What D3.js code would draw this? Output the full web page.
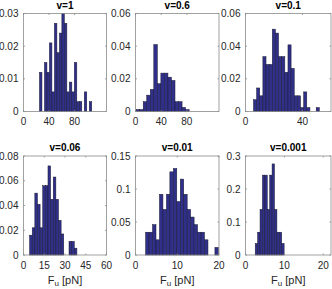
<!DOCTYPE html>
<html>
<head>
<meta charset="utf-8">
<script src="https://cdn.jsdelivr.net/npm/d3@7"></script>
<style>
  body { margin: 0; background: #fff; }
  text { font-family: "Liberation Sans", Arial, Helvetica, sans-serif; }
</style>
</head>
<body>
<div id="chart"></div>
<script>
// panel titles (pulling speed)
var titles = ["v=1", "v=0.6", "v=0.1", "v=0.06", "v=0.01", "v=0.001"];

// histogram heights (pdf) per bin
var pdf1 = [0.012, 0, 0.015, 0.012, 0.021, 0.006, 0.027, 0.018, 0.024, 0.030, 0.027,
            0.006, 0.009, 0.006, 0.015, 0.003, 0.003, 0, 0.006, 0, 0.003];
var pdf2 = [0.0012, 0.0012, 0.006, 0.010, 0.0135, 0.041, 0.017, 0.0235, 0.0235, 0.021,
            0.019, 0.006, 0.006, 0.0025, 0.0012];
var pdf3 = [0.0072, 0.0144, 0.0096, 0.0336, 0.0288, 0.0288, 0.0504, 0.048, 0.0336, 0.0336,
            0.024, 0.0408, 0.0264, 0.0096, 0.0096, 0.0024, 0.012, 0.0024, 0, 0, 0.0024];
var pdf4 = [0.016, 0.022, 0.050, 0.041, 0.022, 0.056, 0.056, 0.072, 0.045, 0.063,
            0.045, 0.028, 0.017, 0, 0, 0.011, 0.011, 0.0055];
var pdf5 = [0.0345, 0.0345, 0.046, 0.023, 0.092, 0.069, 0.092, 0.126, 0.131, 0.081,
            0.115, 0.092, 0.069, 0.0575, 0.046, 0.0345, 0.0345, 0.023, 0, 0, 0.0115];
var pdf6 = [0.035, 0.069, 0.138, 0.242, 0.242, 0.138, 0.242, 0.276, 0.138, 0.069, 0.069, 0.035];
var pdfs = [pdf1, pdf2, pdf3, pdf4, pdf5, pdf6];

// first bin edge and bin width, in pN
var binStart = [25, 1, 5.6, 4.4, 2.42, 2.5];
var binWidth = [3.9, 5.5, 2.2, 1.9, 0.83, 0.62];

// axis limits and ticks
var xMax = [130, 130, 60, 60, 20, 22];
var xTicks = [[0, 40, 80], [0, 40, 80], [0, 40], [0, 15, 30, 45, 60], [0, 10, 20], [0, 10, 20]];
var yMax = [0.03, 0.06, 0.06, 0.08, 0.15, 0.3];
var yTicks = [[0, 0.01, 0.02, 0.03], [0, 0.02, 0.04, 0.06], [0, 0.02, 0.04, 0.06],
              [0, 0.02, 0.04, 0.06, 0.08], [0, 0.05, 0.1, 0.15], [0, 0.1, 0.2, 0.3]];

var width = 332, height = 289;
var svg = d3.select("#chart").append("svg")
    .attr("width", width)
    .attr("height", height);

// axes boxes [left, right] per column, [top, bottom] per row
var cols = [[23.5, 106.5], [135.5, 219], [245.5, 331]];
var rows = [[13.5, 111.5], [156, 255]];
var axisColor = "#262626";
var boxColor = "#8a8a8a";

pdfs.forEach(function(pdf, p) {
    var c = cols[p % 3], r = rows[Math.floor(p / 3)];
    var w = c[1] - c[0], h = r[1] - r[0];
    var g = svg.append("g").attr("transform", "translate(" + c[0] + "," + r[0] + ")");

    var x = d3.scaleLinear().domain([0, xMax[p]]).range([0, w]);
    var y = d3.scaleLinear().domain([0, yMax[p]]).range([h, 0]);

    // bars
    g.selectAll(".bar")
        .data(pdf.map(function(v, k) { return {v: v, k: k}; }).filter(function(d) { return d.v > 0; }))
        .enter().append("rect")
        .attr("class", "bar")
        .attr("x", function(d) { return x(binStart[p] + d.k * binWidth[p]); })
        .attr("width", x(binWidth[p]) - x(0))
        .attr("y", function(d) { return y(d.v); })
        .attr("height", function(d) { return h - y(d.v); })
        .attr("fill", "#30308a")
        .attr("stroke", "#1a1a33")
        .attr("stroke-width", 0.5);

    // box
    g.append("rect")
        .attr("width", w).attr("height", h)
        .attr("fill", "none")
        .attr("stroke", boxColor)
        .attr("stroke-width", 0.8);

    // ticks (inward, on all four sides)
    var tl = 1.5;
    xTicks[p].forEach(function(t) {
        g.append("line").attr("x1", x(t)).attr("x2", x(t)).attr("y1", h).attr("y2", h - tl)
            .attr("stroke", boxColor).attr("stroke-width", 0.8);
        g.append("line").attr("x1", x(t)).attr("x2", x(t)).attr("y1", 0).attr("y2", tl)
            .attr("stroke", boxColor).attr("stroke-width", 0.8);
        g.append("text")
            .attr("x", x(t)).attr("y", h + 13.8)
            .attr("text-anchor", "middle")
            .attr("font-size", 10)
            .attr("fill", axisColor)
            .text(t);
    });
    yTicks[p].forEach(function(t) {
        g.append("line").attr("x1", 0).attr("x2", tl).attr("y1", y(t)).attr("y2", y(t))
            .attr("stroke", boxColor).attr("stroke-width", 0.8);
        g.append("line").attr("x1", w).attr("x2", w - tl).attr("y1", y(t)).attr("y2", y(t))
            .attr("stroke", boxColor).attr("stroke-width", 0.8);
        g.append("text")
            .attr("x", -5).attr("y", y(t) + 3.6)
            .attr("text-anchor", "end")
            .attr("font-size", 10)
            .attr("fill", axisColor)
            .text(t);
    });

    // title
    g.append("text")
        .attr("x", w / 2).attr("y", -5)
        .attr("text-anchor", "middle")
        .attr("font-size", 10)
        .attr("font-weight", "bold")
        .attr("fill", "#000")
        .text(titles[p]);

    // x label on the bottom row
    if (p >= 3) {
        var lab = g.append("text")
            .attr("x", w / 2).attr("y", h + 28.5)
            .attr("text-anchor", "middle")
            .attr("font-size", 11)
            .attr("fill", axisColor);
        lab.append("tspan").text("F");
        lab.append("tspan").attr("font-size", 8).attr("dy", 2.5).text("u");
        lab.append("tspan").attr("dy", -2.5).text(" [pN]");
    }
});
</script>
</body>
</html>
